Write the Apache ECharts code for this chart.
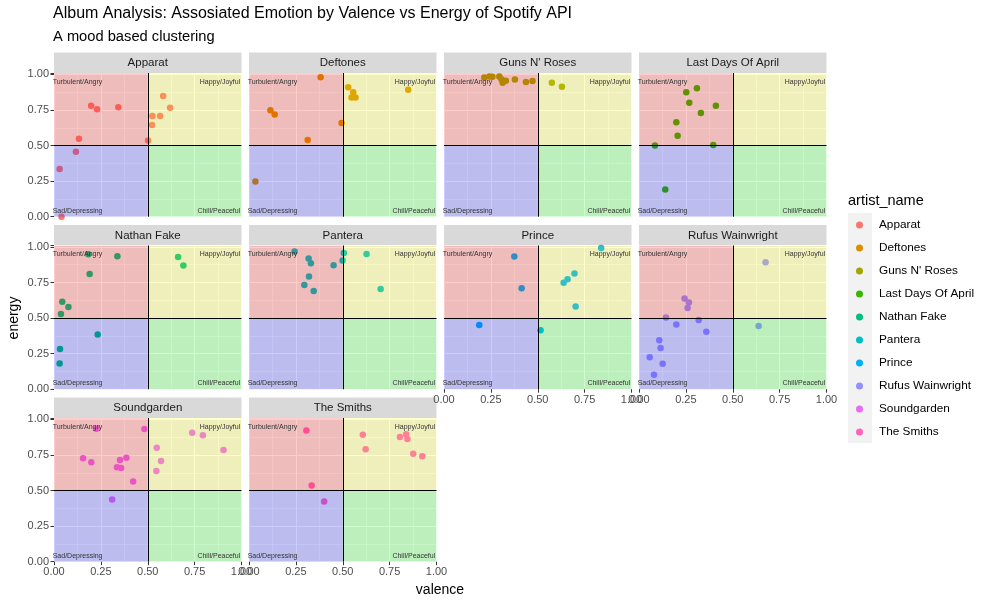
<!DOCTYPE html>
<html>
<head>
<meta charset="utf-8">
<script src="https://cdn.jsdelivr.net/npm/echarts@6/dist/echarts.min.js"></script>
<style>
  html, body { margin: 0; padding: 0; background: #fff; }
  #main { width: 988px; height: 604px; }
</style>
</head>
<body>
<div id="main"></div>
<script>
// artists (facets) and ggplot hue colours
var artists = ['Apparat', 'Deftones', "Guns N' Roses", 'Last Days Of April', 'Nathan Fake',
               'Pantera', 'Prince', 'Rufus Wainwright', 'Soundgarden', 'The Smiths'];
var palette = ['#F8766D', '#D89000', '#A3A500', '#39B600', '#00BF7D',
               '#00BFC4', '#00B0F6', '#9590FF', '#E76BF3', '#FF62BC'];

// [valence, energy] per track
var apparat = [[0.04, 0.00], [0.03, 0.335], [0.117, 0.457], [0.133, 0.548], [0.198, 0.78], [0.23, 0.756],
               [0.343, 0.77], [0.502, 0.536], [0.523, 0.644], [0.525, 0.707], [0.566, 0.707], [0.582, 0.848], [0.619, 0.766]];
var deftones = [[0.034, 0.248], [0.114, 0.749], [0.137, 0.719], [0.313, 0.539], [0.382, 0.981], [0.494, 0.658],
                [0.529, 0.909], [0.556, 0.874], [0.547, 0.838], [0.568, 0.838], [0.849, 0.892]];
var gunsNRoses = [[0.215, 0.979], [0.242, 0.986], [0.258, 0.984], [0.295, 0.986], [0.307, 0.965], [0.313, 0.941],
                  [0.33, 0.956], [0.378, 0.965], [0.437, 0.946], [0.472, 0.953], [0.575, 0.941], [0.629, 0.913]];
var lastDaysOfApril = [[0.085, 0.501], [0.14, 0.192], [0.199, 0.663], [0.206, 0.569], [0.252, 0.874],
                       [0.268, 0.801], [0.309, 0.902], [0.33, 0.728], [0.396, 0.504], [0.41, 0.78]];
var nathanFake = [[0.183, 0.948], [0.338, 0.934], [0.19, 0.81], [0.044, 0.614], [0.077, 0.578], [0.037, 0.529],
                  [0.233, 0.384], [0.032, 0.283], [0.03, 0.18], [0.662, 0.93], [0.69, 0.869]];
var pantera = [[0.243, 0.967], [0.318, 0.918], [0.33, 0.885], [0.32, 0.792], [0.295, 0.733], [0.345, 0.691],
               [0.451, 0.871], [0.506, 0.958], [0.499, 0.904], [0.627, 0.951], [0.702, 0.705]];
var prince = [[0.375, 0.932], [0.414, 0.71], [0.188, 0.452], [0.515, 0.415], [0.638, 0.749], [0.659, 0.773],
              [0.696, 0.813], [0.702, 0.581], [0.838, 0.993]];
var rufusWainwright = [[0.675, 0.892], [0.243, 0.637], [0.266, 0.609], [0.259, 0.571], [0.144, 0.504], [0.318, 0.487],
                       [0.199, 0.454], [0.359, 0.403], [0.638, 0.445], [0.108, 0.344], [0.115, 0.29], [0.057, 0.225],
                       [0.126, 0.178], [0.08, 0.101]];
var soundgarden = [[0.226, 0.935], [0.482, 0.932], [0.155, 0.727], [0.199, 0.699], [0.336, 0.664], [0.352, 0.715],
                   [0.358, 0.659], [0.386, 0.731], [0.422, 0.563], [0.31, 0.437], [0.548, 0.801], [0.571, 0.708],
                   [0.546, 0.638], [0.737, 0.907], [0.794, 0.888], [0.904, 0.785]];
var theSmiths = [[0.306, 0.923], [0.334, 0.535], [0.401, 0.423], [0.607, 0.893], [0.622, 0.79], [0.805, 0.876],
                 [0.838, 0.895], [0.845, 0.862], [0.876, 0.759], [0.924, 0.741]];

var tracks = [apparat, deftones, gunsNRoses, lastDaysOfApril, nathanFake,
              pantera, prince, rufusWainwright, soundgarden, theSmiths];

var quadrantNames = ['Turbulent/Angry', 'Happy/Joyful', 'Sad/Depressing', 'Chill/Peaceful'];

var myChart = echarts.init(document.getElementById('main'));

// facet layout
var colLeft = [54, 249, 444, 639];
var rowTop = [73, 245.5, 418];
var PW = 187.5, PH = 143.7, YMAX = 1.01;
var FONT = 'Liberation Sans, Arial, sans-serif';

function fmt(v) {
    return Math.abs(v * 4 - Math.round(v * 4)) < 1e-6 ? v.toFixed(2) : '';
}

function makeAxis(i, max, show) {
    return {
        gridIndex: i,
        type: 'value',
        min: 0,
        max: max,
        interval: 0.25,
        axisLine: { show: false },
        axisTick: { show: show, length: 3.5, lineStyle: { color: '#333' } },
        axisLabel: { show: show, formatter: fmt, color: '#4D4D4D', fontSize: 11, margin: 5 },
        splitLine: { lineStyle: { color: '#fff', width: 1.1 } },
        minorTick: { show: false, splitNumber: 2 },
        minorSplitLine: { show: true, lineStyle: { color: '#fff', width: 0.5 } }
    };
}

var grids = [], xAxes = [], yAxes = [], series = [], graphics = [];

graphics.push({ type: 'rect', shape: { x: 848, y: 213, width: 24, height: 230 }, style: { fill: '#F2F2F2' } });
graphics.push({ type: 'text', x: 848, y: 201, style: { text: 'artist_name', fill: '#000', font: '14.5px ' + FONT, verticalAlign: 'middle' } });
graphics.push({ type: 'text', x: 440, y: 590, style: { text: 'valence', fill: '#000', font: '14px ' + FONT, align: 'center', verticalAlign: 'middle' } });
graphics.push({ type: 'text', x: 14, y: 318, rotation: Math.PI / 2, style: { text: 'energy', fill: '#000', font: '14px ' + FONT, align: 'center', verticalAlign: 'middle' } });

function addFacet(i) {
    var col = i % 4, row = Math.floor(i / 4);
    var showX = row === 2 || (row === 1 && col >= 2);
    var showY = col === 0;
    var px = colLeft[col], py = rowTop[row];

    grids.push({
        left: px, top: py, width: PW, height: PH,
        show: true, backgroundColor: '#EBEBEB', borderWidth: 0
    });
    xAxes.push(makeAxis(i, 1, showX));
    yAxes.push(makeAxis(i, YMAX, showY));

    series.push({
        type: 'scatter',
        name: artists[i],
        xAxisIndex: i, yAxisIndex: i,
        data: tracks[i],
        symbolSize: 6.5,
        itemStyle: { color: palette[i], opacity: 1 },
        z: 2
    });

    // mood quadrants drawn over the points, as in the reference
    series.push({
        type: 'scatter',
        name: 'mood' + i,
        xAxisIndex: i, yAxisIndex: i,
        data: [],
        silent: true,
        markArea: {
            silent: true,
            z: 10,
            label: { fontSize: 7, color: '#333', distance: 4 },
            data: [
                [{ name: quadrantNames[0], xAxis: 0, yAxis: 0.5, itemStyle: { color: 'rgba(255,0,0,0.2)' },
                   label: { position: 'insideTopLeft', offset: [-5.3, 1.5] } }, { xAxis: 0.5, yAxis: YMAX }],
                [{ name: quadrantNames[1], xAxis: 0.5, yAxis: 0.5, itemStyle: { color: 'rgba(255,255,0,0.2)' },
                   label: { position: 'insideTopRight', offset: [2.7, 1.5] } }, { xAxis: 1, yAxis: YMAX }],
                [{ name: quadrantNames[2], xAxis: 0, yAxis: 0, itemStyle: { color: 'rgba(0,0,255,0.2)' },
                   label: { position: 'insideBottomLeft', offset: [-5.3, 1.5] } }, { xAxis: 0.5, yAxis: 0.5 }],
                [{ name: quadrantNames[3], xAxis: 0.5, yAxis: 0, itemStyle: { color: 'rgba(0,255,0,0.2)' },
                   label: { position: 'insideBottomRight', offset: [2.7, 1.5] } }, { xAxis: 1, yAxis: 0.5 }]
            ]
        },
        markLine: {
            silent: true,
            z: 11,
            symbol: ['none', 'none'],
            label: { show: false },
            lineStyle: { color: '#000', type: 'solid', width: 1 },
            data: [{ xAxis: 0.5 }, { yAxis: 0.5 }]
        }
    });

    // facet strip
    graphics.push({ type: 'rect', shape: { x: px, y: py - 20.5, width: PW, height: 20.5 }, style: { fill: '#D9D9D9' } });
    graphics.push({ type: 'text', x: px + PW / 2, y: py - 10, style: { text: artists[i], fill: '#1A1A1A', font: '11.5px ' + FONT, align: 'center', verticalAlign: 'middle' } });
}

for (var k = 0; k < artists.length; k++) addFacet(k);

var option = {
    animation: false,
    backgroundColor: '#fff',
    textStyle: { fontFamily: FONT },
    title: [
        { text: 'Album Analysis: Assosiated Emotion by Valence vs Energy of Spotify API', left: 53, top: 6, padding: 0,
          textStyle: { fontSize: 16, fontWeight: 'normal', color: '#000' } },
        { text: 'A mood based clustering', left: 53, top: 29.5, padding: 0,
          textStyle: { fontSize: 14.7, fontWeight: 'normal', color: '#000' } }
    ],
    legend: {
        orient: 'vertical',
        left: 856, top: 218,
        padding: 0,
        icon: 'circle',
        itemWidth: 7, itemHeight: 7,
        itemGap: 9,
        data: artists,
        textStyle: { fontSize: 11.8, color: '#000', lineHeight: 14, padding: [0, 0, 0, 11] }
    },
    grid: grids,
    xAxis: xAxes,
    yAxis: yAxes,
    series: series,
    graphic: graphics
};

myChart.setOption(option);
</script>
</body>
</html>
